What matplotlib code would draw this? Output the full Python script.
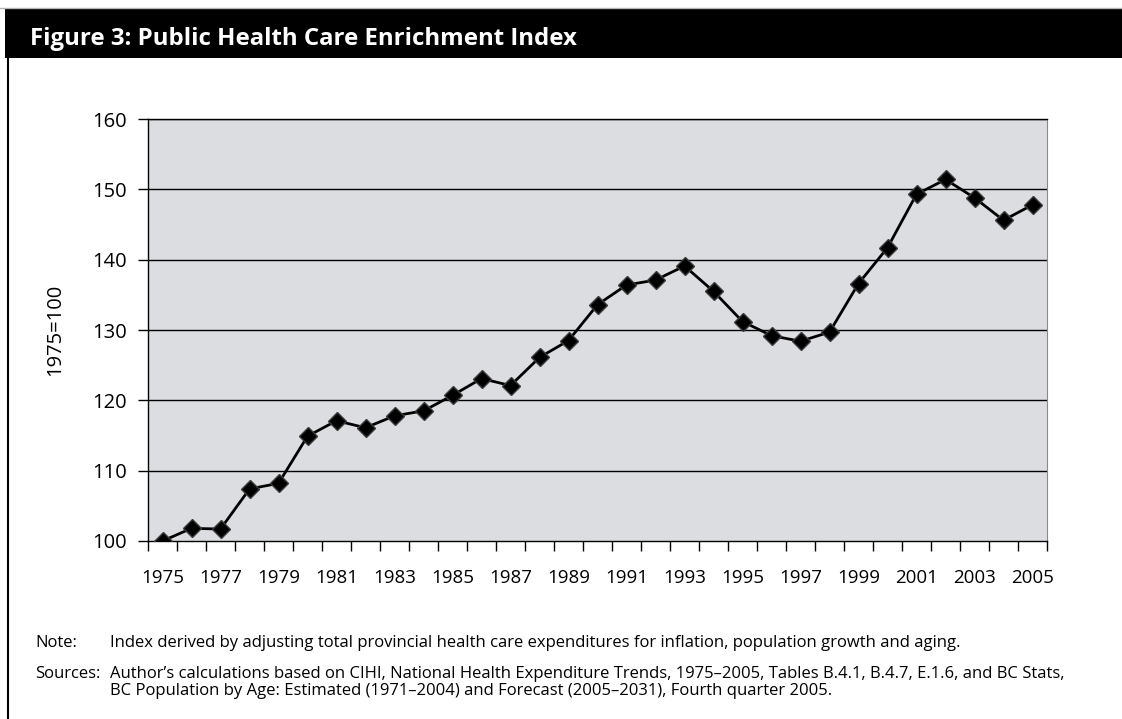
import matplotlib
matplotlib.use("Agg")
import matplotlib.pyplot as plt
from matplotlib.lines import Line2D
from matplotlib.patches import Rectangle

plt.rcParams['font.family'] = ['Open Sans', 'DejaVu Sans']

years = list(range(1975, 2006))
index_values = [100.0, 101.8, 101.7, 107.4, 108.2, 114.9, 117.1, 116.1, 117.8, 118.5,
                120.7, 123.1, 122.1, 126.1, 128.5, 133.6, 136.4, 137.1, 139.1, 135.5,
                131.2, 129.2, 128.4, 129.7, 136.6, 141.7, 149.3, 151.4, 148.8, 145.6,
                147.8]
y_ticks = [100, 110, 120, 130, 140, 150, 160]

title = "Figure 3: Public Health Care Enrichment Index"
note_text = ("Index derived by adjusting total provincial health care expenditures "
             "for inflation, population growth and aging.")
source_lines = [
    "Author\u2019s calculations based on CIHI, National Health Expenditure Trends, "
    "1975\u20132005, Tables B.4.1, B.4.7, E.1.6, and BC Stats,",
    "BC Population by Age: Estimated (1971\u20132004) and Forecast (2005\u20132031), "
    "Fourth quarter 2005.",
]

W, H = 1122, 719
fig = plt.figure(figsize=(W / 100, H / 100), dpi=100)

# header band and frame
fig.add_artist(Line2D([0, 1], [1 - 7.5 / H] * 2, color='#b5b5b5', lw=1))
fig.add_artist(Rectangle((5 / W, 1 - 58 / H), 1 - 5 / W, 50 / H,
                         facecolor='black', edgecolor='none'))
fig.add_artist(Line2D([7.5 / W] * 2, [0, 1 - 58 / H], color='black', lw=1.5))
fig.text(30 / W, 1 - 45 / H, title, color='white', fontsize=17.3,
         fontweight='bold', va='baseline', ha='left')

ax = fig.add_axes([148 / W, 1 - 541 / H, (1047 - 148) / W, (541 - 119) / H])
ax.set_facecolor('#dcdde0')

x = list(range(len(years)))
ax.plot(x, index_values, color='black', lw=2, marker='D', ms=9.5,
        mfc='black', mec='#3a3a3a', mew=1, zorder=3)

ax.set_xlim(-0.5, len(years) - 0.5)
ax.set_ylim(100, 160)
ax.set_yticks(y_ticks)
for v in y_ticks[1:]:
    ax.axhline(v, color='black', lw=1, zorder=1)

ax.set_xticks(x[::2])
ax.set_xticklabels([str(yr) for yr in years[::2]])
ax.set_xticks([i - 0.5 for i in range(len(years) + 1)], minor=True)
ax.tick_params(axis='x', which='major', length=0, pad=20, labelsize=13.5)
ax.tick_params(axis='x', which='minor', length=7, width=1, direction='out')
ax.tick_params(axis='y', length=7, width=1, direction='out', pad=8, labelsize=14.5)

for side in ['left', 'bottom', 'top']:
    ax.spines[side].set_color('black')
    ax.spines[side].set_linewidth(1)
ax.spines['right'].set_color('#8a8a8a')

fig.text(55 / W, 1 - 330 / H, "1975=100", rotation=90, fontsize=14.5,
         ha='center', va='center')

# notes underneath
fs = 12
fig.text(35 / W, 1 - 643 / H, "Note:", fontsize=fs, va='center')
fig.text(110 / W, 1 - 643 / H, note_text, fontsize=fs, va='center')
fig.text(35 / W, 1 - 674 / H, "Sources:", fontsize=fs, va='center')
fig.text(110 / W, 1 - 674 / H, source_lines[0], fontsize=fs, va='center')
fig.text(110 / W, 1 - 691 / H, source_lines[1], fontsize=fs, va='center')

fig.savefig("out.png", dpi=100)
